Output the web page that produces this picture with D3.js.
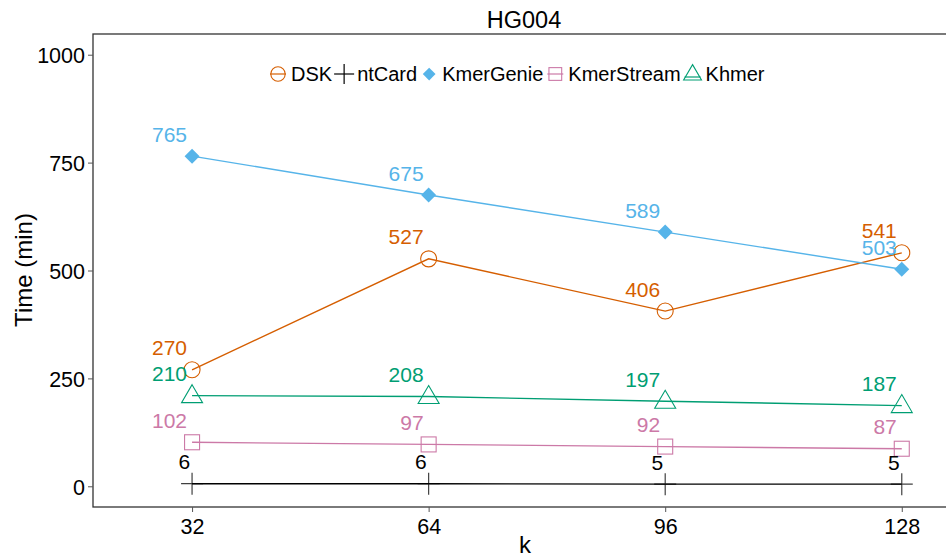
<!DOCTYPE html>
<html><head><meta charset="utf-8">
<script src="https://cdn.jsdelivr.net/npm/d3@7"></script>
<style>body{margin:0;background:#fff}svg{display:block;font-family:"Liberation Sans",Arial,Helvetica,sans-serif}</style>
</head><body><svg id="c" width="946" height="559"></svg>
<script>
const kValues = [32, 64, 96, 128];
const xTicks = [32, 64, 96, 128];
const yTicks = [0, 250, 500, 750, 1000];
const seriesNames = ["DSK", "ntCard", "KmerGenie", "KmerStream", "Khmer"];
const seriesColors = ["#D55E00", "#000000", "#56B4E9", "#CC79A7", "#009E73"];
const seriesShapes = ["circle", "plus", "diamond", "square", "triangle"];
const dskValues = [270, 527, 406, 541];
const ntcardValues = [6, 6, 5, 5];
const kmergenieValues = [765, 675, 589, 503];
const kmerstreamValues = [102, 97, 92, 87];
const khmerValues = [210, 208, 197, 187];
const title = "HG004", xTitle = "k", yTitle = "Time (min)";

const series = [dskValues, ntcardValues, kmergenieValues, kmerstreamValues, khmerValues]
  .map((v, i) => ({name: seriesNames[i], color: seriesColors[i], shape: seriesShapes[i], values: v}));

const svg = d3.select("#c");
const P = {l: 93, r: 955, t: 34, b: 507};
const x = d3.scaleLinear().domain([18.6, 135.2]).range([P.l, P.r]);
const y = d3.scaleLinear().domain([-48, 1048]).range([P.b, P.t]);

// panel border
svg.append("rect").attr("x", P.l).attr("y", P.t).attr("width", P.r - P.l).attr("height", P.b - P.t)
  .attr("fill", "none").attr("stroke", "#333").attr("stroke-width", 1.3);

// axes
const xAxis = svg.append("g").attr("transform", `translate(0,${P.b})`)
  .call(d3.axisBottom(x).tickValues(xTicks).tickFormat(d3.format("d")).tickSize(5).tickPadding(6));
const yAxis = svg.append("g").attr("transform", `translate(${P.l},0)`)
  .call(d3.axisLeft(y).tickValues(yTicks).tickFormat(d3.format("d")).tickSize(5).tickPadding(3));
[xAxis, yAxis].forEach(g => {
  g.select(".domain").remove();
  g.selectAll(".tick line").attr("stroke", "#555").attr("stroke-width", 1);
  g.selectAll(".tick text").attr("fill", "#000").style("font-size", "21.5px");
});
yAxis.selectAll(".tick text").attr("dy", "0.36em");
xAxis.selectAll(".tick text").attr("dy", "0.75em");

// titles
svg.append("text").attr("x", 524).attr("y", 28).attr("text-anchor", "middle").style("font-size", "23.5px").text(title);
svg.append("text").attr("x", 525).attr("y", 553).attr("text-anchor", "middle").style("font-size", "24px").text(xTitle);
svg.append("text").attr("transform", "translate(32,270) rotate(-90)").attr("text-anchor", "middle").style("font-size", "24px").text(yTitle);

function shape(g, type, color, s) {
  if (type === "circle") g.append("circle").attr("r", 8 * s).attr("fill", "none").attr("stroke", color).attr("stroke-width", 1.1);
  else if (type === "plus") g.append("path").attr("d", `M${-11*s},0H${11*s}M0,${-11*s}V${11*s}`).attr("stroke", color).attr("stroke-opacity", 0.75).attr("stroke-width", 1.2);
  else if (type === "diamond") g.append("path").attr("d", `M0,${-7.5*s}L${7.5*s},0L0,${7.5*s}L${-7.5*s},0Z`).attr("fill", color);
  else if (type === "square") g.append("rect").attr("x", -7.5*s).attr("y", -7.5*s).attr("width", 15*s).attr("height", 15*s).attr("fill", "none").attr("stroke", color).attr("stroke-width", 1.1);
  else if (type === "triangle") g.append("path").attr("d", `M0,${-11*s}L${10.5*s},${7*s}L${-10.5*s},${7*s}Z`).attr("fill", "none").attr("stroke", color).attr("stroke-width", 1.1);
}

const line = d3.line().x((d, i) => x(kValues[i])).y(d => y(d));
const order = [0, 2, 3, 4, 1];
order.forEach(si => {
  const s = series[si];
  svg.append("path").datum(s.values).attr("d", line).attr("fill", "none").attr("stroke", s.color).attr("stroke-width", 1.4);
  s.values.forEach((v, i) => {
    const g = svg.append("g").attr("transform", `translate(${x(kValues[i])},${y(v)})`);
    shape(g, s.shape, s.color, 1);
    svg.append("text").attr("x", x(kValues[i]) - (v < 10 ? 2 : 5)).attr("y", y(v) - 22).attr("dy", "0.36em")
      .attr("text-anchor", "end").attr("fill", s.color).style("font-size", "21px").text(v);
  });
});

// legend
const lg = svg.append("g");
let lx = 268;
const ly = 74;
series.forEach(s => {
  const kg = lg.append("g").attr("transform", `translate(${lx + 10},${ly})`);
  if (s.shape !== "diamond") kg.append("line").attr("x1", s.shape === "plus" ? -10 : -8).attr("x2", s.shape === "plus" ? 10 : 8)
    .attr("y1", s.shape === "triangle" ? 3 : 0).attr("y2", s.shape === "triangle" ? 3 : 0).attr("stroke", s.color).attr("stroke-width", 1.2);
  if (s.shape === "triangle") shape(kg, "triangle", s.color, 0.85);
  else if (s.shape === "plus") kg.append("path").attr("d", "M0,-10V10").attr("stroke", s.color).attr("stroke-width", 1.2);
  else shape(kg, s.shape, s.color, s.shape === "circle" ? 0.9 : 0.85);
  const t = lg.append("text").attr("x", lx + 23).attr("y", ly).attr("dy", "0.36em").style("font-size", "20px").text(s.name);
  lx = lx + 23 + t.node().getComputedTextLength() + 2;
});
</script></body></html>
